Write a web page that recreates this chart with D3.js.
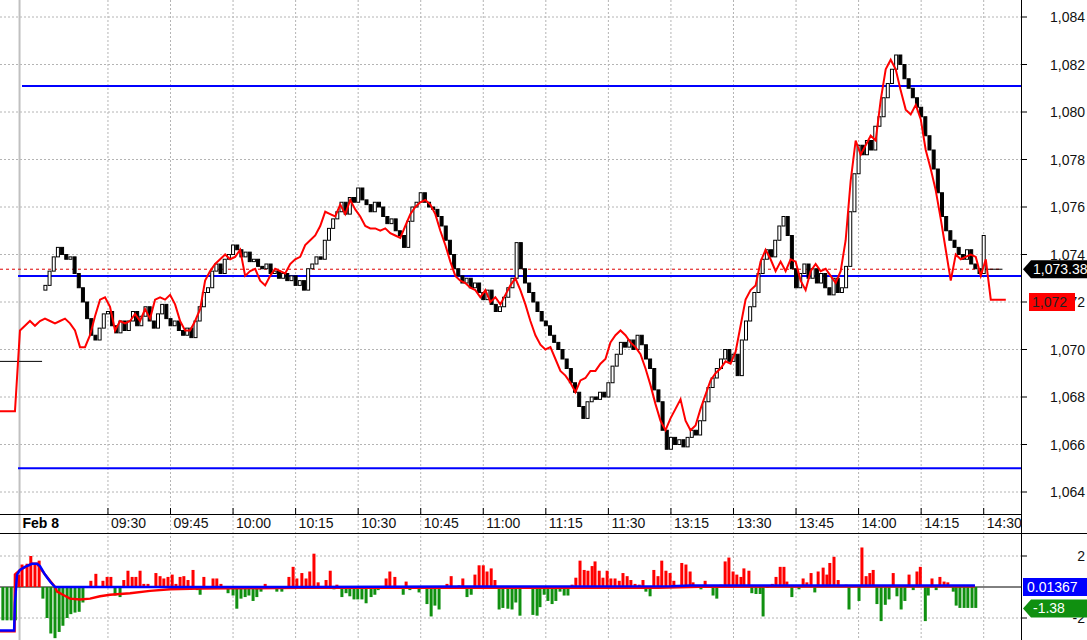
<!DOCTYPE html>
<html><head><meta charset="utf-8">
<script src="https://cdn.jsdelivr.net/npm/d3@7"></script>
<style>body{margin:0;background:#fff}svg{display:block;font-family:"Liberation Sans",Arial,sans-serif}</style>
</head><body><svg id="c" width="1087" height="640"></svg>
<script>
// ---- data ----
const closes = [
1072.7,1073.3,1073.9,1074.3,1074.0,1073.8,1073.9,1073.2,1072.6,1072.0,
1071.3,1070.6,1070.4,1070.9,1071.5,1071.6,1071.0,1070.7,1071.2,1070.8,
1071.2,1071.6,1071.0,1071.4,1071.8,1071.2,1070.9,1071.5,1071.9,1071.3,
1071.0,1071.2,1070.8,1070.6,1070.9,1070.5,1071.2,1071.8,1072.4,1072.6,
1073.3,1073.6,1073.2,1073.8,1074.0,1074.4,1074.2,1073.9,1074.1,1073.7,
1073.8,1073.5,1073.4,1073.6,1073.2,1073.3,1073.0,1073.2,1072.9,1073.1,
1072.7,1072.9,1072.5,1073.4,1073.6,1073.9,1073.8,1074.6,1075.1,1075.5,
1075.8,1076.2,1075.7,1076.4,1076.2,1076.8,1076.3,1076.1,1075.8,1076.2,
1076.0,1075.6,1075.3,1075.5,1075.0,1074.8,1074.3,1075.4,1076.0,1076.2,
1076.6,1076.2,1076.0,1075.9,1075.6,1075.2,1074.6,1074.0,1073.4,1073.1,
1072.8,1073.0,1072.6,1072.8,1072.4,1072.1,1072.5,1071.9,1071.6,1071.8,
1072.2,1072.6,1073.0,1074.5,1073.4,1072.8,1072.4,1072.0,1071.6,1071.2,
1071.0,1070.6,1070.3,1070.0,1069.6,1069.2,1068.6,1068.2,1067.6,1067.1,
1067.8,1068.0,1067.9,1068.2,1068.0,1068.6,1069.3,1069.8,1070.3,1070.1,
1070.4,1070.0,1070.6,1070.2,1069.6,1069.2,1068.3,1067.8,1066.6,1065.8,
1066.3,1066.0,1066.2,1065.9,1066.3,1066.6,1066.4,1067.0,1067.8,1068.4,
1068.8,1069.2,1069.6,1070.0,1069.5,1069.8,1068.9,1070.4,1071.2,1071.8,
1072.4,1073.2,1073.8,1074.2,1073.9,1074.6,1075.2,1075.6,1074.8,1073.4,
1072.6,1073.2,1073.6,1073.0,1073.4,1072.8,1073.2,1072.6,1072.3,1073.0,
1072.4,1072.6,1073.5,1075.8,1077.4,1078.6,1078.2,1078.8,1078.4,1079.4,
1079.8,1080.6,1081.2,1081.8,1082.4,1082.0,1081.4,1081.0,1080.6,1080.2,
1079.8,1079.0,1078.4,1077.6,1076.6,1075.6,1075.0,1074.6,1074.3,1074.0,
1073.8,1074.2,1073.6,1073.4,1073.2,1074.8];
const firstOpen = 1072.5;
// red line, sampled from index -10.9 every 1.2 bars
const redStart = -10.9, redStep = 1.2;
const redLine = [
1067.4,1067.4,1067.4,1067.4,1070.8,1071.0,1071.2,1071.0,1071.2,1071.3,1071.2,1071.1,1071.2,1071.3,1071.1,1070.8,1070.1,1070.1,1070.6,1071.4,
1072.1,1072.2,1071.8,1070.8,1071.2,1071.1,1071.2,1071.5,1071.2,1071.7,1071.3,1072.1,1072.2,1072.1,1072.3,1071.9,1071.2,1070.8,1070.8,1071.2,
1071.7,1072.9,1073.3,1073.6,1073.8,1074.0,1073.8,1073.9,1074.2,1073.1,1073.3,1073.4,1072.9,1072.7,1073.1,1073.4,1073.3,1073.2,1073.6,1073.8,
1073.9,1074.4,1074.6,1074.8,1075.2,1075.8,1075.7,1075.6,1076.1,1075.7,1076.3,1075.9,1075.6,1075.2,1075.1,1075.1,1075.0,1075.1,1074.9,1074.8,
1074.7,1075.2,1075.7,1076.0,1076.2,1076.3,1076.1,1075.7,1075.0,1074.4,1073.7,1073.1,1072.9,1072.8,1072.6,1072.5,1072.2,1072.5,1072.0,1072.2,
1071.9,1072.3,1072.7,1073.0,1072.5,1071.9,1071.2,1070.6,1070.2,1070.0,1070.1,1069.6,1069.1,1068.9,1068.6,1068.2,1068.7,1068.8,1069.1,1069.1,
1069.4,1069.6,1070.3,1070.6,1070.8,1070.6,1070.3,1070.1,1069.8,1069.2,1068.5,1067.7,1067.0,1066.6,1067.1,1067.5,1067.9,1067.0,1066.6,1066.8,
1067.5,1068.1,1068.7,1069.0,1069.2,1069.5,1069.4,1069.9,1071.0,1072.1,1072.5,1072.7,1073.7,1074.2,1073.8,1073.3,1073.7,1073.3,1073.8,1073.7,
1072.9,1072.5,1073.3,1073.6,1073.3,1073.4,1073.1,1072.8,1073.3,1074.6,1077.1,1078.8,1078.2,1078.6,1079.0,1078.8,1080.5,1081.8,1082.2,1081.8,
1080.9,1080.1,1079.9,1080.3,1079.7,1078.4,1077.6,1076.7,1075.5,1074.2,1072.9,1074.0,1073.8,1073.9,1074.0,1073.9,1073.1,1073.8,1072.1,1072.1,
1072.1,1072.1];
const levels = [1081.1, 1073.1, 1065.0];
const prevClose = 1069.5;
const lastPrice = 1073.38, redLast = 1072;
const priceTicks = [1064,1066,1068,1070,1072,1074,1076,1078,1080,1082,1084];
const timeIdx = [15,30,45,60,75,90,105,120,135,150,165,180,195,210,225];
const timeLbl = ["09:30","09:45","10:00","10:15","10:30","10:45","11:00","11:15","11:30","13:15","13:30","13:45","14:00","14:15","14:30"];
const dayIdx = -6.2, dayLbl = "Feb 8";
const histI = [-10.2,-9.2,-8.2,-7.2,-6.4,-5.6,-4.4,-3.5,-2.5,-1.5,-0.6,0.4,1.3,2.3,3.3,4.2,5.2,6.1,7.1,8.1,9.0,10.9,12.1,13.8,14.8,15.7,16.7,17.9,18.8,19.8,20.8,21.7,22.7,23.6,24.6,26.5,27.5,28.4,29.4,30.4,31.3,32.3,33.2,34.2,35.4,36.4,37.1,38.0,40.2,41.1,42.1,43.8,45.0,45.9,46.9,47.9,48.8,49.8,50.7,51.7,52.7,53.6,55.5,56.7,58.4,59.4,60.3,61.5,62.5,63.4,64.4,65.4,67.3,68.3,69.2,69.9,71.1,72.1,73.0,74.0,74.9,75.9,76.9,78.1,79.0,79.8,80.7,81.7,82.6,83.8,85.8,86.5,87.4,89.6,90.5,91.5,92.5,93.4,94.4,96.3,97.3,98.2,99.2,100.1,101.1,102.1,103.0,104.0,105.0,105.9,106.9,107.8,108.8,109.7,110.9,111.9,112.8,113.8,
116.9,117.9,118.6,119.6,120.5,121.5,122.4,123.4,124.4,125.3,126.3,127.2,128.2,129.2,130.1,131.1,131.8,132.8,133.7,134.7,135.6,136.6,137.6,138.5,139.5,140.4,141.4,142.4,143.3,144.0,145.0,145.9,146.9,147.8,148.8,149.8,150.7,151.7,152.6,153.6,154.6,155.3,157.2,158.2,160.1,161.0,162.0,163.0,163.9,164.9,165.8,166.8,167.5,168.7,169.4,170.4,171.4,172.1,173.1,174.3,175.2,176.2,177.1,177.8,179.0,180.7,181.7,182.6,183.6,184.5,185.3,186.5,187.4,188.1,189.1,190.1,192.0,192.7,193.7,195.1,195.8,196.8,197.7,198.5,199.4,200.4,201.4,202.3,203.3,204.2,205.2,206.1,207.1,208.1,209.0,209.8,211.0,211.7,212.6,213.6,214.5,215.5,216.4,217.7,218.4,219.3,220.3,221.2,222.2,223.1];
const histV = [-2.15,-2.15,-2.15,-2.15,0.8,1.45,1.5,2.0,1.5,1.7,-0.75,-2.0,-3.0,-3.3,-2.9,-2.5,-2.0,-1.75,-1.65,-1.6,-1.0,0.4,0.85,0.4,0.65,0.65,-0.55,-0.65,0.45,1.05,0.65,0.65,1.05,0.2,0.2,0.9,0.7,0.55,0.65,0.8,0.2,0.65,0.7,0.45,1.1,-0.2,-0.5,0.65,0.55,0.55,0.2,-0.4,-0.55,-1.4,-0.75,-0.65,-0.55,-0.9,-0.65,-0.3,0.2,-0.1,-0.3,-0.3,0.65,1.3,0.55,0.9,0.55,1.0,2.15,0.3,0.45,1.05,-0.15,0.15,-0.65,-0.4,-0.6,-0.8,-0.8,-0.8,-1.05,-0.65,-0.5,-0.2,-0.1,0.55,1.0,0.65,-0.5,0.35,-0.2,-0.35,-0.1,-1.1,-1.9,-1.2,-1.45,0.2,0.7,-0.1,0.1,0.55,-0.65,-0.5,0.8,1.4,1.4,1.0,1.2,0.45,-1.45,-1.35,-1.4,-1.45,-1.0,-1.85,
-1.8,-1.85,-1.3,-0.5,-0.9,-1.1,-0.9,-0.3,-0.55,-0.55,0.15,0.6,1.7,1.1,1.05,1.35,1.65,1.05,0.6,1.05,0.55,0.55,0.4,0.9,0.7,0.45,0.2,0.15,0.45,-0.3,-0.6,1.1,0.7,1.7,1.05,0.9,0.4,-0.05,1.55,1.45,1.0,0.3,-0.15,0.4,-0.55,-0.75,0.15,1.65,1.9,1.0,0.8,0.65,1.2,1.05,-0.4,-0.45,-0.45,-1.9,-0.05,0.2,0.65,1.3,1.3,0.35,-0.65,-0.15,0.55,0.3,0.9,-0.35,1.0,1.25,0.8,1.55,1.95,0.45,0.15,-1.45,0.1,-0.9,2.55,0.7,0.9,1.1,-1.1,-2.2,-1.15,-0.8,0.9,-0.6,-1.45,-0.9,0.8,-0.2,1.0,1.3,-2.2,-0.55,0.55,-0.2,0.65,0.35,0.3,-0.3,-1.2,-1.35,-1.35,-1.35,-1.35,-1.35];
const oscLine = [[-10.9,-2.8],[-7.5,-2.8],[-7.3,-1.0],[-6.8,0.8],[-6.1,1.1],[-4.9,1.3],[-3.2,1.5],[-2.0,1.5],[-1.3,1.35],[-0.1,0.8],[1.1,0.35],[2.3,0.0],[60,0.0],[100,0.03],[150,0.05],[154.6,0.1],[222.9,0.1]];
const sigLine = [[-10.9,-2.85],[-7.4,-2.85],[-7.3,0.8],[-6.1,1.1],[-3.2,1.5],[-2.0,1.5],[-0.1,0.8],[2.3,0],[2.8,-0.3],[4.2,-0.5],[5.9,-0.75],[8.3,-0.8],[10.7,-0.75],[13.1,-0.6],[15.5,-0.5],[20.3,-0.4],[25.1,-0.25],[29.9,-0.15],[37.1,-0.1],[61,-0.05],[147,-0.05],[157,0.02],[222.9,0.05]];
const oscTicks = [-2, 2];
const oscLast = "0.01367", sigLast = "-1.38";

// ---- drawing ----
const svg = d3.select("#c");
const W = 1021;
const x = d3.scaleLinear().domain([0,225]).range([45.4,983.7]);
const y = d3.scaleLinear().domain([1064,1084]).range([492,17]);
const y2 = d3.scaleLinear().domain([-2,2]).range([618,556]);
const grid = "#b4b4b4";

// grids
svg.append("g").selectAll("line").data(priceTicks).join("line")
  .attr("x1",0).attr("x2",W).attr("y1",d=>y(d)).attr("y2",d=>y(d))
  .attr("stroke",grid).attr("stroke-dasharray","2,2");
svg.append("g").selectAll("line").data(oscTicks).join("line")
  .attr("x1",0).attr("x2",W).attr("y1",d=>y2(d)).attr("y2",d=>y2(d))
  .attr("stroke",grid).attr("stroke-dasharray","2,2");
svg.append("g").selectAll("line").data(timeIdx).join("line")
  .attr("x1",d=>x(d)).attr("x2",d=>x(d)).attr("y1",0).attr("y2",640)
  .attr("stroke",grid).attr("stroke-dasharray","2,2");
svg.append("line").attr("x1",x(dayIdx)).attr("x2",x(dayIdx)).attr("y1",0).attr("y2",640).attr("stroke","#c0c0c0").attr("stroke-width",2);

// levels
svg.append("g").selectAll("line").data(levels).join("line")
  .attr("x1",(d,i)=>i==0?22:18).attr("x2",W).attr("y1",d=>y(d)).attr("y2",d=>y(d))
  .attr("stroke","#0000ff").attr("stroke-width",2);
// last price dashed
svg.append("line").attr("x1",0).attr("x2",1000).attr("y1",y(lastPrice)).attr("y2",y(lastPrice))
  .attr("stroke","#d00").attr("stroke-dasharray","3,3");
svg.append("line").attr("x1",x(224)).attr("x2",x(229.5)).attr("y1",y(lastPrice)).attr("y2",y(lastPrice)).attr("stroke","#000");
// prev close segment
svg.append("line").attr("x1",x(-10.9)).attr("x2",x(-0.8)).attr("y1",y(prevClose)).attr("y2",y(prevClose)).attr("stroke","#000");

// candles
const candles = closes.map((c,i)=>{const o=i?closes[i-1]:firstOpen;return {i,o,c};});
const cg = svg.append("g");
cg.selectAll("rect").data(candles).join("rect")
  .attr("x",d=>x(d.i)-1.5).attr("width",3)
  .attr("y",d=>y(Math.max(d.o,d.c))).attr("height",d=>Math.max(1,Math.abs(y(d.o)-y(d.c))))
  .attr("fill",d=>d.c>=d.o?"#fff":"#000").attr("stroke","#000").attr("stroke-width",1);

// red line
svg.append("path").datum(redLine).attr("fill","none").attr("stroke","#ff0000").attr("stroke-width",2)
  .attr("d",d3.line().x((d,k)=>x(redStart+k*redStep)).y(d=>y(d)).curve(d3.curveLinear));

// panel / axes lines
svg.append("line").attr("x1",W+0.5).attr("x2",W+0.5).attr("y1",0).attr("y2",640).attr("stroke","#000");
svg.append("line").attr("x1",0).attr("x2",W).attr("y1",514.5).attr("y2",514.5).attr("stroke","#000");
svg.append("line").attr("x1",0).attr("x2",1087).attr("y1",533.5).attr("y2",533.5).attr("stroke","#000");
// price axis
svg.append("g").selectAll("line").data(priceTicks).join("line")
  .attr("x1",W).attr("x2",W+6).attr("y1",d=>y(d)).attr("y2",d=>y(d)).attr("stroke","#000");
svg.append("g").selectAll("text").data(priceTicks).join("text")
  .attr("x",1085).attr("y",d=>y(d)+5).attr("text-anchor","end").attr("font-size",14).attr("fill","#111")
  .text(d=>d3.format(",")(d));
svg.append("g").selectAll("line").data(oscTicks).join("line")
  .attr("x1",W).attr("x2",W+6).attr("y1",d=>y2(d)).attr("y2",d=>y2(d)).attr("stroke","#000");
svg.append("g").selectAll("text").data(oscTicks).join("text")
  .attr("x",1085).attr("y",d=>y2(d)+5).attr("text-anchor","end").attr("font-size",14).attr("fill","#111")
  .text(d=>d);
// time axis
svg.append("g").selectAll("line").data(timeIdx).join("line")
  .attr("x1",d=>x(d)).attr("x2",d=>x(d)).attr("y1",508).attr("y2",514).attr("stroke","#000");
svg.append("g").selectAll("text").data(timeIdx).join("text")
  .attr("x",d=>x(d)+3).attr("y",528).attr("font-size",14).attr("fill","#111").text((d,i)=>timeLbl[i]);
svg.append("text").attr("x",x(dayIdx)+3).attr("y",528).attr("font-size",14).attr("font-weight","bold").text(dayLbl);

// histogram
svg.append("line").attr("x1",0).attr("x2",W).attr("y1",y2(0)).attr("y2",y2(0)).attr("stroke","#000");
svg.append("g").selectAll("rect").data(histI.map((t,k)=>({t,v:histV[k]}))).join("rect")
  .attr("x",d=>x(d.t)-1.5).attr("width",3)
  .attr("y",d=>y2(Math.max(0,d.v))).attr("height",d=>Math.abs(y2(d.v)-y2(0)))
  .attr("fill",d=>d.v>=0?"#ff0000":"#109010");
const l2 = d3.line().x(d=>x(d[0])).y(d=>y2(d[1]));
svg.append("path").datum(sigLine).attr("fill","none").attr("stroke","#ff0000").attr("stroke-width",2.5).attr("d",l2);
svg.append("path").datum(oscLine).attr("fill","none").attr("stroke","#0000ff").attr("stroke-width",2.5).attr("d",l2);

// tags
function tag(yv,txt,bg,fg,arrow,x0){
  const g=svg.append("g");
  const h=18, t=yv-h/2;
  if(arrow) g.append("path").attr("d",`M${x0},${yv} L${x0+8},${t} L1087,${t} L1087,${t+h} L${x0+8},${t+h} Z`).attr("fill",bg);
  else g.append("rect").attr("x",x0).attr("y",t).attr("width",1087-x0).attr("height",h).attr("fill",bg);
  g.append("text").attr("x",arrow?x0+10:x0+4).attr("y",yv+5).attr("font-size",14).attr("fill",fg).text(txt);
}
tag(y(lastPrice),d3.format(",.2f")(lastPrice),"#000","#fff",true,1023);
svg.append("rect").attr("x",1029).attr("y",y(redLast)-9).attr("width",46).attr("height",18).attr("fill","#ff0000");
svg.append("text").attr("x",1032).attr("y",y(redLast)+5).attr("font-size",14).attr("fill","#222").text(d3.format(",")(redLast));
tag(y2(0),oscLast,"#0000ff","#fff",false,1023);
tag(y2(-1.38),sigLast,"#109010","#fff",true,1023);
svg.select("g:last-child rect, g:last-child path");
</script></body></html>
